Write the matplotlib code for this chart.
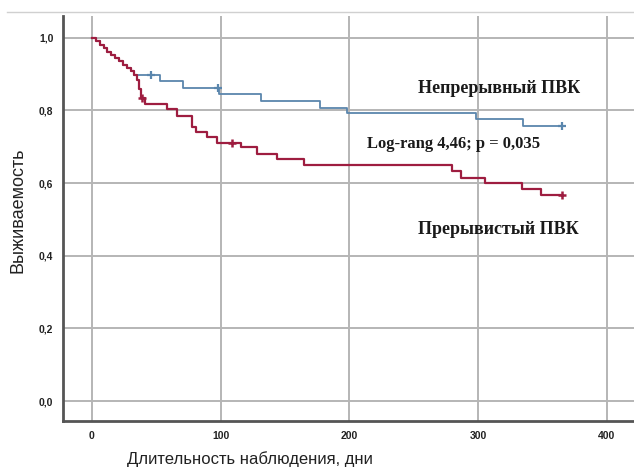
import matplotlib
matplotlib.use('Agg')
import matplotlib.pyplot as plt
from matplotlib.lines import Line2D

# Kaplan-Meier data (days, survival)
common_t = [0, 3, 6, 9, 12, 15, 18, 21, 24, 27, 30, 33]
common_s = [1.0, 0.99, 0.98, 0.971, 0.962, 0.953, 0.944, 0.935, 0.926, 0.917, 0.908, 0.898]

cont_t = [53, 70.5, 99, 131, 177, 198, 298, 335, 365]
cont_s = [0.882, 0.862, 0.846, 0.826, 0.807, 0.793, 0.777, 0.758, 0.758]
cont_cens_t = [46, 98, 365]
cont_cens_s = [0.898, 0.862, 0.758]

inter_t = [35, 36.5, 38, 41, 58, 66, 77.5, 81, 89, 97, 116, 128, 144, 165, 280, 287, 305, 334, 349, 365]
inter_s = [0.884, 0.860, 0.835, 0.818, 0.804, 0.785, 0.755, 0.741, 0.727, 0.711, 0.700, 0.680, 0.666,
           0.650, 0.634, 0.614, 0.600, 0.584, 0.567, 0.567]
inter_cens_t = [38.5, 109, 365]
inter_cens_s = [0.835, 0.711, 0.567]

x_ticks = [0, 100, 200, 300, 400]
y_ticks = [0.0, 0.2, 0.4, 0.6, 0.8, 1.0]
y_ticklabels = ['0,0', '0,2', '0,4', '0,6', '0,8', '1,0']

blue = '#5a86ad'
red = '#9e1d40'
sans = ['Liberation Sans', 'DejaVu Sans']
serif = ['Liberation Serif', 'DejaVu Serif']

fig = plt.figure(figsize=(6.34, 4.72), dpi=100)
ax = fig.add_axes([63 / 634, 1 - 421 / 472, 1 - 63 / 634, (421 - 16) / 472])

ax.step(common_t + cont_t, common_s + cont_s, where='post', color=blue, lw=1.3, zorder=3)
ax.step(common_t + inter_t, common_s + inter_s, where='post', color=red, lw=1.6, zorder=4)
ax.plot(cont_cens_t, cont_cens_s, '+', color=blue, ms=6, mew=1.6, zorder=5)
ax.plot(inter_cens_t, inter_cens_s, '+', color=red, ms=6, mew=1.8, zorder=5)

ax.set_xlim(-22.5, 421)
ax.set_ylim(-0.055, 1.06)
ax.set_xticks(x_ticks)
ax.set_yticks(y_ticks)
ax.set_yticklabels(y_ticklabels)
ax.tick_params(length=0, pad=7)
for lab in ax.get_xticklabels() + ax.get_yticklabels():
    lab.set_family(sans)
    lab.set_fontsize(7.5)
    lab.set_fontweight('bold')
    lab.set_color('#222222')
ax.grid(True, color='#b5b5b5', lw=1.4)
ax.set_axisbelow(True)
for side in ['top', 'right']:
    ax.spines[side].set_visible(False)
for side in ['left', 'bottom']:
    ax.spines[side].set_color('#555555')
    ax.spines[side].set_linewidth(2)

ax.set_xlabel('Длительность наблюдения, дни', family=sans, fontsize=12, color='#222222')
ax.xaxis.set_label_coords(0.327, -0.075)
ax.set_ylabel('Выживаемость', family=sans, fontsize=13, color='#222222')
ax.yaxis.set_label_coords(-0.064, 0.521)

ax.text(316, 0.86, 'Непрерывный ПВК', family=serif, fontsize=13, fontweight='bold',
        ha='center', va='center', color='#1a1a1a')
ax.text(281, 0.708, 'Log-rang 4,46; p = 0,035', family=serif, fontsize=12, fontweight='bold',
        ha='center', va='center', color='#1a1a1a')
ax.text(316, 0.471, 'Прерывистый ПВК', family=serif, fontsize=13, fontweight='bold',
        ha='center', va='center', color='#1a1a1a')

fig.add_artist(Line2D([7 / 634, 1], [1 - 12 / 472, 1 - 12 / 472], color='#d0d0d0', lw=1))

fig.savefig('out.png', dpi=100)
